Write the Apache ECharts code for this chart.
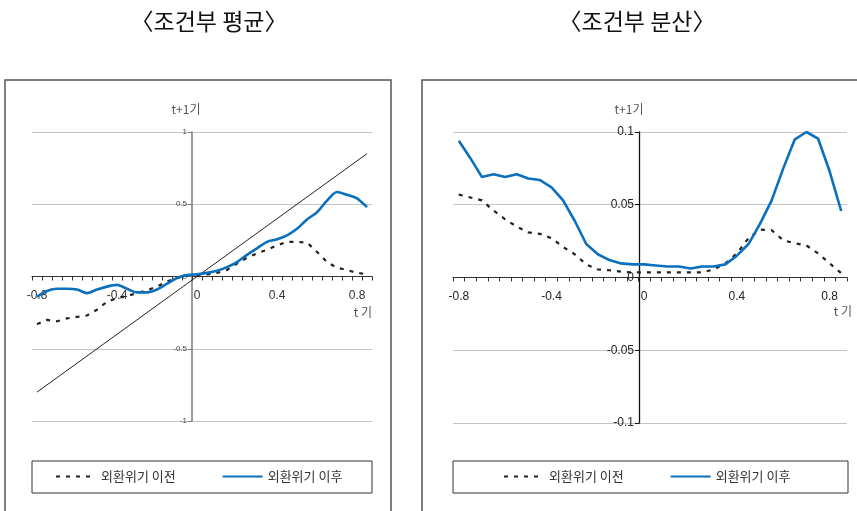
<!DOCTYPE html>
<html lang="ko">
<head>
<meta charset="utf-8">
<title>조건부 평균 · 조건부 분산</title>
<script src="https://cdn.jsdelivr.net/npm/echarts@6/dist/echarts.min.js"></script>
<style>
  html, body { margin: 0; padding: 0; background: #fff; }
  #chart { width: 857px; height: 511px; }
</style>
</head>
<body>
<div id="chart"></div>
<script>
// t기 (x축 범주)
const categories = [-0.8, -0.75, -0.7, -0.65, -0.6, -0.55, -0.5, -0.45, -0.4, -0.35,
  -0.3, -0.25, -0.2, -0.15, -0.1, -0.05, 0, 0.05, 0.1, 0.15, 0.2, 0.25, 0.3, 0.35,
  0.4, 0.45, 0.5, 0.55, 0.6, 0.65, 0.7, 0.75, 0.8, 0.85];

// 조건부 평균
const meanBefore = [-0.33, -0.30, -0.31, -0.29, -0.28, -0.27, -0.23, -0.175, -0.15, -0.135,
  -0.115, -0.095, -0.07, -0.035, -0.01, 0.01, 0.01, 0.015, 0.025, 0.045, 0.09, 0.13, 0.16, 0.185,
  0.215, 0.24, 0.24, 0.235, 0.17, 0.10, 0.06, 0.045, 0.025, 0.015];
const meanAfter = [-0.14, -0.10, -0.085, -0.085, -0.09, -0.115, -0.09, -0.07, -0.058, -0.085,
  -0.11, -0.11, -0.09, -0.05, -0.01, 0.01, 0.015, 0.025, 0.04, 0.065, 0.10, 0.15, 0.195, 0.24,
  0.258, 0.285, 0.33, 0.395, 0.445, 0.525, 0.585, 0.565, 0.54, 0.48];
// 45도 기준선
const diagonal = [-0.8, -0.75, -0.7, -0.65, -0.6, -0.55, -0.5, -0.45, -0.4, -0.35,
  -0.3, -0.25, -0.2, -0.15, -0.1, -0.05, 0, 0.05, 0.1, 0.15, 0.2, 0.25, 0.3, 0.35,
  0.4, 0.45, 0.5, 0.55, 0.6, 0.65, 0.7, 0.75, 0.8, 0.85];

// 조건부 분산
const varBefore = [0.057, 0.055, 0.053, 0.046, 0.040, 0.035, 0.031, 0.030, 0.027, 0.021,
  0.016, 0.009, 0.0055, 0.005, 0.004, 0.0035, 0.0035, 0.0035, 0.0035, 0.0035, 0.0035, 0.0035, 0.0055, 0.0097,
  0.0166, 0.027, 0.033, 0.0325, 0.0256, 0.0235, 0.022, 0.0166, 0.0097, 0.003];
const varAfter = [0.094, 0.082, 0.069, 0.071, 0.069, 0.071, 0.068, 0.067, 0.062, 0.053,
  0.039, 0.023, 0.016, 0.012, 0.0097, 0.009, 0.009, 0.0083, 0.0076, 0.0076, 0.0062, 0.0076, 0.0076, 0.009,
  0.015, 0.023, 0.037, 0.053, 0.075, 0.095, 0.100, 0.0955, 0.073, 0.0457];

const seriesNames = ['외환위기 이전', '외환위기 이후'];
const titles = ['〈조건부 평균〉', '〈조건부 분산〉'];

const NUM_FONT = 'Liberation Sans, Arial, Noto Sans CJK KR, sans-serif';
const KR_FONT = 'Noto Sans CJK KR, Noto Sans, sans-serif';
const BLUE = '#0a70be';
const DARK = '#222222';
const DASH = [4, 6];

// 가로축은 세로축 0 위치(그리드 중앙)로 끌어올려 그린다
function xAxisFor(gridIndex, labelColor, offset) {
  return {
    type: 'category',
    gridIndex: gridIndex,
    data: categories.map(String),
    boundaryGap: true,
    position: 'bottom',
    offset: offset,
    axisLine: { onZero: false, lineStyle: { color: '#333', width: 1.2 } },
    axisTick: { show: true, interval: 0, length: 4, inside: false, lineStyle: { color: '#333', width: 1 } },
    axisLabel: { interval: 7, margin: 13, fontSize: 12, color: labelColor, fontFamily: NUM_FONT, hideOverlap: false },
    splitLine: { show: false }
  };
}

function yAxisFor(gridIndex, min, max, step, offset, opts) {
  return {
    type: 'value',
    gridIndex: gridIndex,
    min: min, max: max, interval: step,
    position: 'left',
    offset: offset,
    axisLine: { show: true, onZero: false, lineStyle: { color: opts.axisColor, width: opts.axisWidth } },
    axisTick: { show: true, length: 4, lineStyle: { color: opts.axisColor } },
    axisLabel: { fontSize: opts.labelSize, color: opts.labelColor, margin: 5, fontFamily: NUM_FONT },
    splitLine: { show: true, lineStyle: { color: '#c4c4c4', width: 1 } }
  };
}

function legendAt(left) {
  return {
    data: seriesNames, left: left, top: 470, padding: 0,
    itemWidth: 40, itemHeight: 12, itemGap: 46,
    itemStyle: { opacity: 0 },
    textStyle: { fontSize: 13, color: '#333', fontFamily: KR_FONT }
  };
}

const chart = echarts.init(document.getElementById('chart'), null, { renderer: 'canvas' });

chart.setOption({
  animation: false,
  backgroundColor: '#ffffff',
  grid: [
    { left: 32, top: 132, width: 340, height: 289, containLabel: false },
    { left: 453, top: 132, width: 394, height: 291, containLabel: false }
  ],
  xAxis: [xAxisFor(0, '#333', -144.5), xAxisFor(1, '#222', -145.5)],
  yAxis: [
    yAxisFor(0, -1, 1, 0.5, -160, { axisColor: '#7a7a7a', axisWidth: 1.5, labelSize: 8, labelColor: '#444' }),
    yAxisFor(1, -0.1, 0.1, 0.05, -186, { axisColor: '#111', axisWidth: 1.3, labelSize: 12, labelColor: '#222' })
  ],
  legend: [legendAt(55), legendAt(503)],
  series: [
    {
      name: '45도선', type: 'line', xAxisIndex: 0, yAxisIndex: 0, data: diagonal,
      symbol: 'none', silent: true,
      lineStyle: { color: DARK, width: 1 }, itemStyle: { color: DARK }, z: 2
    },
    {
      name: seriesNames[0], type: 'line', xAxisIndex: 0, yAxisIndex: 0, data: meanBefore,
      symbol: 'none',
      lineStyle: { color: DARK, width: 2.2, type: DASH }, itemStyle: { color: DARK }, z: 3
    },
    {
      name: seriesNames[1], type: 'line', xAxisIndex: 0, yAxisIndex: 0, data: meanAfter,
      symbol: 'none', smooth: 0.3,
      lineStyle: { color: BLUE, width: 2.6 }, itemStyle: { color: BLUE }, z: 4
    },
    {
      name: seriesNames[0], type: 'line', xAxisIndex: 1, yAxisIndex: 1, data: varBefore,
      symbol: 'none',
      lineStyle: { color: DARK, width: 2.2, type: DASH }, itemStyle: { color: DARK }, z: 3
    },
    {
      name: seriesNames[1], type: 'line', xAxisIndex: 1, yAxisIndex: 1, data: varAfter,
      symbol: 'none',
      lineStyle: { color: BLUE, width: 2.6 }, itemStyle: { color: BLUE }, z: 4
    }
  ],
  graphic: [
    // 패널 테두리
    { type: 'rect', shape: { x: 5, y: 80, width: 386, height: 440 }, style: { fill: 'none', stroke: '#555', lineWidth: 1.5 }, silent: true, z: -1 },
    { type: 'rect', shape: { x: 422, y: 80, width: 445, height: 440 }, style: { fill: 'none', stroke: '#555', lineWidth: 1.5 }, silent: true, z: -1 },
    // 범례 상자
    { type: 'rect', shape: { x: 32, y: 461, width: 340, height: 32 }, style: { fill: 'none', stroke: '#333', lineWidth: 1 }, silent: true },
    { type: 'rect', shape: { x: 453, y: 461, width: 395, height: 32 }, style: { fill: 'none', stroke: '#333', lineWidth: 1 }, silent: true },
    // 제목
    { type: 'text', x: 209, y: 21, style: { text: titles[0], fontSize: 23, fill: '#111', fontFamily: KR_FONT, align: 'center', verticalAlign: 'middle' } },
    { type: 'text', x: 637, y: 21, style: { text: titles[1], fontSize: 23, fill: '#111', fontFamily: KR_FONT, align: 'center', verticalAlign: 'middle' } },
    // 축 이름
    { type: 'text', x: 186, y: 109, style: { text: 't+1기', fontSize: 12, fill: '#555', fontFamily: KR_FONT, align: 'center', verticalAlign: 'middle' } },
    { type: 'text', x: 629, y: 109, style: { text: 't+1기', fontSize: 12, fill: '#555', fontFamily: KR_FONT, align: 'center', verticalAlign: 'middle' } },
    { type: 'text', x: 372, y: 312, style: { text: 't 기', fontSize: 12, fill: '#555', fontFamily: KR_FONT, align: 'right', verticalAlign: 'middle' } },
    { type: 'text', x: 852, y: 311, style: { text: 't 기', fontSize: 12, fill: '#555', fontFamily: KR_FONT, align: 'right', verticalAlign: 'middle' } }
  ]
});
</script>
</body>
</html>
